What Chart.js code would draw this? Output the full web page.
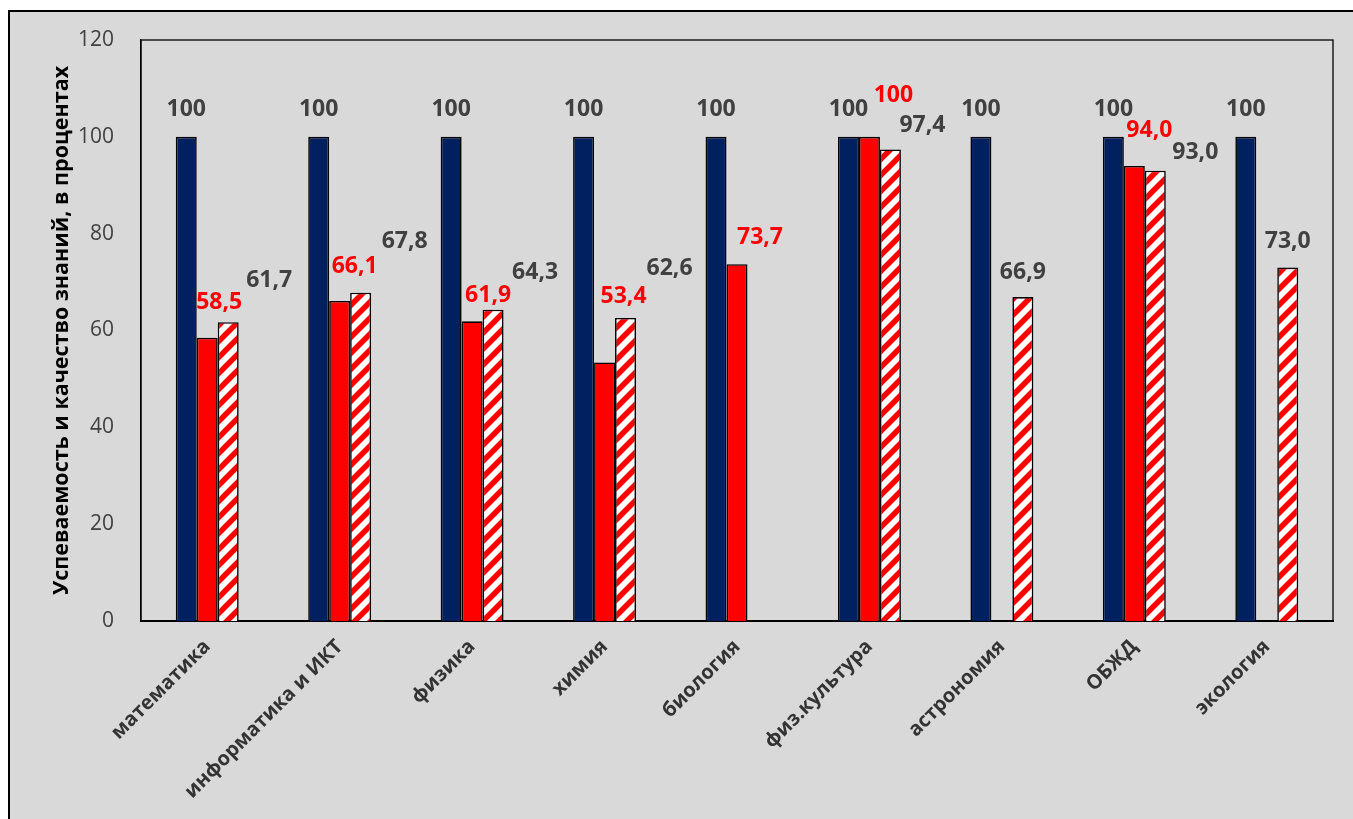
<!DOCTYPE html>
<html>
<head>
<meta charset="utf-8">
<script src="https://cdn.jsdelivr.net/npm/chart.js@4"></script>
<style>
  body { margin: 0; background: #fff; overflow: hidden; }
  #frame { position: absolute; left: 8px; top: 10px; width: 1400px; height: 900px;
           border: 2px solid #000; background: #d9d9d9; }
  #chart { position: absolute; left: 0; top: 0; }
</style>
</head>
<body>
<div id="frame"></div>
<canvas id="chart" width="1353" height="819"></canvas>
<script>
const subjects = ["математика", "информатика и ИКТ", "физика", "химия", "биология",
                  "физ.культура", "астрономия", "ОБЖД", "экология"];
const progress = [100, 100, 100, 100, 100, 100, 100, 100, 100];
const quality = [58.5, 66.1, 61.9, 53.4, 73.7, 100, null, 94.0, null];
const qualityPrev = [61.7, 67.8, 64.3, 62.6, null, 97.4, 66.9, 93.0, 73.0];
const yTicks = [0, 20, 40, 60, 80, 100, 120];

// where each value label sits relative to the top of its bar (px)
const labelShift = [
  subjects.map(() => [0, -27]),
  [[12, -35], [15, -35], [16, -26], [19, -66], [23, -27], [24, -41], null, [15, -35], null],
  [[41, -42], [44, -51], [42, -37], [44, -49], null, [32, -24], [0, -25], [40, -18], [0, -26]]
];
const labelColor = ["#404040", "#ff0000", "#404040"];

function stripes() {
  const s = 16;
  const c = document.createElement("canvas");
  c.width = s; c.height = s;
  const g = c.getContext("2d");
  g.fillStyle = "#fff";
  g.fillRect(0, 0, s, s);
  g.strokeStyle = "#ff0000";
  g.lineWidth = 5.5;
  g.beginPath();
  g.moveTo(-s / 2, s / 2); g.lineTo(s / 2, -s / 2);
  g.moveTo(0, s); g.lineTo(s, 0);
  g.moveTo(s / 2, s * 1.5); g.lineTo(s * 1.5, s / 2);
  g.stroke();
  return g.createPattern(c, "repeat");
}

function fmt(v) {
  return v === 100 ? "100" : v.toFixed(1).replace(".", ",");
}

const valueLabels = {
  id: "valueLabels",
  afterDatasetsDraw(chart) {
    const ctx = chart.ctx;
    ctx.save();
    ctx.font = "bold 23px 'Open Sans'";
    ctx.textAlign = "center";
    ctx.textBaseline = "middle";
    chart.data.datasets.forEach((ds, i) => {
      const meta = chart.getDatasetMeta(i);
      meta.data.forEach((bar, j) => {
        const v = ds.data[j];
        const sh = labelShift[i][j];
        if (v == null || !sh) return;
        ctx.fillStyle = labelColor[i];
        ctx.fillText(fmt(v), bar.x + sh[0], bar.y + sh[1]);
      });
    });
    ctx.restore();
  }
};

const plotFrame = {
  id: "plotFrame",
  beforeDatasetsDraw(chart) {
    const a = chart.chartArea;
    const ctx = chart.ctx;
    ctx.save();
    ctx.strokeStyle = "#000";
    ctx.lineWidth = 1.3;
    ctx.strokeRect(a.left, a.top, a.right - a.left, a.bottom - a.top);
    ctx.restore();
  }
};

const canvas = document.getElementById("chart");
new Chart(canvas, {
  type: "bar",
  data: {
    labels: subjects,
    datasets: [{
      label: "Успеваемость",
      data: progress,
      backgroundColor: "#002060",
      borderColor: "#000",
      borderWidth: 1.6
    }, {
      label: "Качество знаний",
      data: quality,
      backgroundColor: "#ff0000",
      borderColor: "#000",
      borderWidth: 1.6
    }, {
      label: "Качество знаний (прошлый год)",
      data: qualityPrev,
      backgroundColor: stripes(),
      borderColor: "#000",
      borderWidth: 1.6
    }]
  },
  options: {
    responsive: false,
    animation: false,
    devicePixelRatio: 1,
    categoryPercentage: 0.475,
    barPercentage: 1.0,
    layout: { padding: { left: 45, top: 40, right: 20, bottom: 0 } },
    plugins: {
      legend: { display: false },
      tooltip: { enabled: false }
    },
    scales: {
      x: {
        grid: { display: false },
        border: { color: "#000", width: 2 },
        ticks: {
          color: "#333",
          font: { family: "'Open Sans'", size: 20, weight: "bold" },
          minRotation: 45,
          maxRotation: 45,
          padding: 6
        },
        afterFit(scale) { scale.height = 198; }
      },
      y: {
        min: 0,
        max: 120,
        grid: { display: false },
        border: { color: "#000", width: 1.3 },
        afterBuildTicks(scale) { scale.ticks = yTicks.map(v => ({ value: v })); },
        ticks: {
          color: "#404040",
          font: { family: "'Open Sans'", size: 21 },
          padding: 19
        },
        title: {
          display: true,
          text: "Успеваемость и качество знаний, в процентах",
          color: "#000",
          font: { family: "'Open Sans'", size: 21.5, weight: "bold" }
        },
        afterFit(scale) { scale.width = 96; }
      }
    }
  },
  plugins: [plotFrame, valueLabels]
});
</script>
</body>
</html>
